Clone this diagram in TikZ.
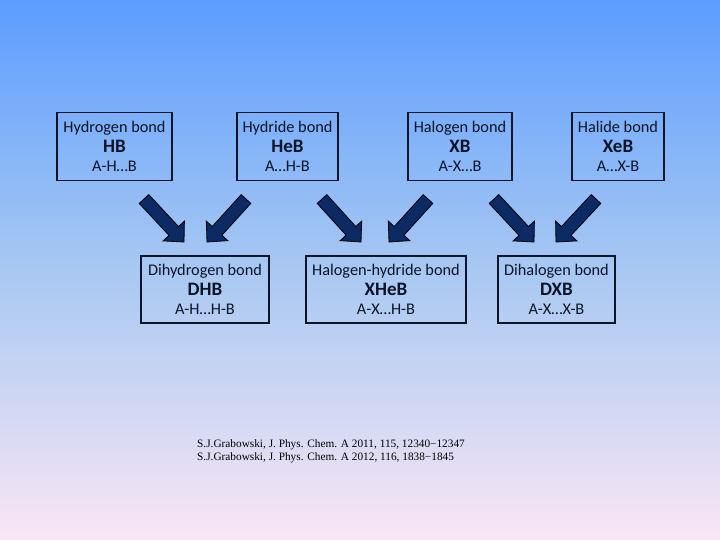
\documentclass[tikz,border=0pt]{standalone}
\usepackage{fontspec}
\setmainfont{Carlito}
\newfontfamily\reffont{Liberation Serif}
\usetikzlibrary{calc}
\definecolor{bgtop}{RGB}{92,157,255}
\definecolor{bgmid}{RGB}{168,200,242}
\definecolor{bgbot}{RGB}{250,230,245}
\definecolor{arrfill}{RGB}{12,42,100}
\definecolor{txt}{RGB}{12,20,40}
\tikzset{
  bondbox/.style={draw=txt, line width=1.2pt, align=center, text=txt, inner sep=0pt, font=\fontsize{16.3}{19.8}\selectfont},
  blockarr/.style={fill=arrfill, draw=black, line width=0.8pt, line join=miter},
}
\newcommand{\bn}[1]{{\fontsize{19}{19.8}\selectfont\bfseries #1}}
\newcommand{\blockarrow}[2]{%
  \coordinate (h) at ($(#2)!15pt!(#1)$);
  \draw[blockarr] ($(#1)!6.5pt!90:(#2)$) -- ($(h)!6.5pt!90:(#2)$) -- ($(h)!14.5pt!90:(#2)$) -- (#2)
    -- ($(h)!14.5pt!-90:(#2)$) -- ($(h)!6.5pt!-90:(#2)$) -- ($(#1)!6.5pt!-90:(#2)$) -- cycle;}
\begin{document}
\begin{tikzpicture}[x=1pt,y=-1pt]
\shade[top color=bgtop, bottom color=bgbot, middle color=bgmid] (0,0) rectangle (720,540);
\useasboundingbox (0,0) rectangle (720,540);
% boxes (row 1)
\node[bondbox, minimum width=115pt, minimum height=68pt] (hb) at (114.5,146.5) {Hydrogen bond\\\bn{HB}\\A-H…B};
\node[bondbox, minimum width=101pt, minimum height=68pt] (heb) at (287.5,146.5) {Hydride bond\\\bn{HeB}\\A…H-B};
\node[bondbox, minimum width=104pt, minimum height=68pt] (xb) at (460,146.5) {Halogen bond\\\bn{XB}\\A-X…B};
\node[bondbox, minimum width=92pt, minimum height=68pt] (xeb) at (618,146.5) {Halide bond\\\bn{XeB}\\A…X-B};
% boxes (row 2)
\node[bondbox, minimum width=128pt, minimum height=67pt] (dhb) at (205,289.5) {Dihydrogen bond\\\bn{DHB}\\A-H…H-B};
\node[bondbox, minimum width=160pt, minimum height=67pt] (xheb) at (386,289.5) {Halogen-hydride bond\\\bn{XHeB}\\A-X…H-B};
\node[bondbox, minimum width=117pt, minimum height=67pt] (dxb) at (556.5,289.5) {Dihalogen bond\\\bn{DXB}\\A-X…X-B};
% arrows
\coordinate (a1s) at (144,199); \coordinate (a1e) at (184,242);
\coordinate (a2s) at (246,199); \coordinate (a2e) at (207,242);
\coordinate (a3s) at (322,199); \coordinate (a3e) at (361,242);
\coordinate (a4s) at (428,199); \coordinate (a4e) at (389,242);
\coordinate (a5s) at (494,199); \coordinate (a5e) at (534,242);
\coordinate (a6s) at (596,199); \coordinate (a6e) at (556,242);
\blockarrow{a1s}{a1e}
\blockarrow{a2s}{a2e}
\blockarrow{a3s}{a3e}
\blockarrow{a4s}{a4e}
\blockarrow{a5s}{a5e}
\blockarrow{a6s}{a6e}
% references
\node[anchor=north west, align=left, inner sep=0pt, font=\reffont\fontsize{11.3}{13.5}\selectfont, text=black] (refs) at (197,439) {S.J.Grabowski, J. Phys. Chem. A 2011, 115, 12340−12347\\S.J.Grabowski, J. Phys. Chem. A 2012, 116, 1838−1845};
\end{tikzpicture}
\end{document}
